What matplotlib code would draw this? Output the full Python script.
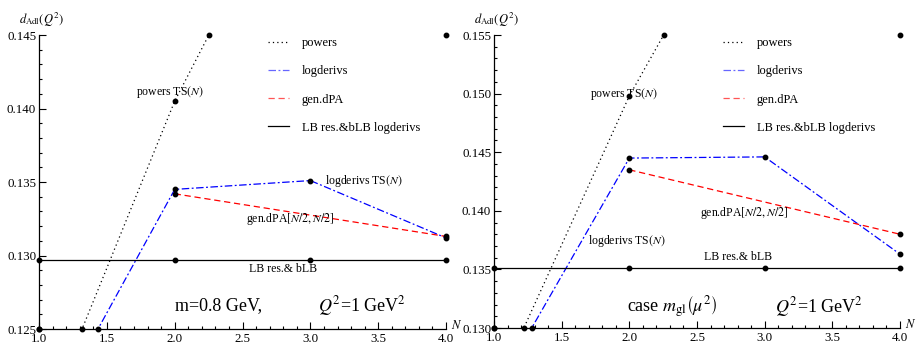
import numpy as np
import matplotlib
matplotlib.use("Agg")
import matplotlib.pyplot as plt
from matplotlib.lines import Line2D
from matplotlib.ticker import MultipleLocator, FormatStrFormatter

plt.rcParams["font.family"] = ["Liberation Serif", "DejaVu Serif"]
plt.rcParams["mathtext.fontset"] = "stix"

# ── data ────────────────────────────────────────────────
N = [1, 2, 3, 4]
N_even = [2, 4]

# left panel: m = 0.8 GeV
powers_L = [0.1178, 0.1405, 0.1584, 0.1700]
logder_L = [0.1177, 0.1345, 0.1351, 0.1312]
gendpa_L = [0.1342, 0.1313]
lb_L = [0.1297, 0.1297, 0.1297, 0.1297]
ylim_L = (0.125, 0.145)

# right panel: case m_gl(mu^2)
powers_R = [0.1244, 0.1498, 0.1703, 0.1850]
logder_R = [0.1244, 0.1445, 0.1446, 0.1363]
gendpa_R = [0.1435, 0.1380]
lb_R = [0.1351, 0.1351, 0.1351, 0.1351]
ylim_R = (0.130, 0.155)


def marks(x, y, lo, hi):
    """points Mathematica leaves on the plot: in-range points,
    clipped end points and crossings with the plot range"""
    px, py = [], []
    n = len(x)
    for i in range(n):
        if lo <= y[i] <= hi:
            px.append(x[i]); py.append(y[i])
        elif i in (0, n - 1):
            px.append(x[i]); py.append(min(max(y[i], lo), hi))
    for i in range(n - 1):
        for lim in (lo, hi):
            if (y[i] - lim) * (y[i + 1] - lim) < 0:
                t = (lim - y[i]) / (y[i + 1] - y[i])
                px.append(x[i] + t * (x[i + 1] - x[i])); py.append(lim)
    return px, py


def panel(ax, powers, logder, gendpa, lb, ylim):
    lw = 0.9
    ax.plot(N, powers, color="black", ls=(0, (1, 2.5)), lw=lw)
    ax.plot(N, logder, color="blue", ls=(0, (6, 2, 1.5, 2)), lw=lw)
    ax.plot(N_even, gendpa, color="red", ls=(0, (5, 3)), lw=lw)
    ax.plot(N, lb, color="black", lw=lw)
    for xs, ys in [(N, powers), (N, logder), (N_even, gendpa), (N, lb)]:
        mx, my = marks(xs, ys, *ylim)
        ax.plot(mx, my, "o", color="black", ms=3.2, clip_on=False, zorder=5)

    ax.set_xlim(1, 4)
    ax.set_ylim(*ylim)
    for s in ["top", "right"]:
        ax.spines[s].set_visible(False)
    ax.spines["left"].set_linewidth(0.9)
    ax.spines["bottom"].set_linewidth(0.9)
    ax.xaxis.set_major_locator(MultipleLocator(0.5))
    ax.xaxis.set_minor_locator(MultipleLocator(0.1))
    ax.yaxis.set_major_locator(MultipleLocator(0.005))
    ax.yaxis.set_minor_locator(MultipleLocator(0.001))
    ax.xaxis.set_major_formatter(FormatStrFormatter("%.1f"))
    ax.yaxis.set_major_formatter(FormatStrFormatter("%.3f"))
    ax.tick_params(which="both", direction="in", labelsize=9.3, width=0.8)
    ax.tick_params(which="major", length=5)
    ax.tick_params(axis="x", which="major", pad=3)
    ax.tick_params(axis="y", which="major", pad=2)
    ax.tick_params(which="minor", length=2.5)
    ax.text(-0.049, 1.02, r"$d_{\rm Adl}(Q^2)$", transform=ax.transAxes,
            ha="left", va="bottom", fontsize=9)
    ax.text(1.012, 0.013, r"$N$", transform=ax.transAxes, ha="left",
            va="center", fontsize=9)


fig = plt.figure(figsize=(9.18, 3.46), dpi=100)
axL = fig.add_axes([0.0425, 0.049, 0.4434, 0.8497])
axR = fig.add_axes([0.5381, 0.052, 0.4423, 0.8468])
panel(axL, powers_L, logder_L, gendpa_L, lb_L, ylim_L)
panel(axR, powers_R, logder_R, gendpa_R, lb_R, ylim_R)

fs = 8.5
# left annotations
axL.text(1.965, 0.1411, r"powers TS$(N)$", ha="center", va="center", fontsize=fs)
axL.text(3.39, 0.1351, r"logderivs TS$(N)$", ha="center", va="center", fontsize=fs)
axL.text(2.85, 0.1325, r"gen.dPA$[N/2,N/2]$", ha="center", va="center", fontsize=fs)
axL.text(2.80, 0.1291, "LB res.& bLB", ha="center", va="center", fontsize=fs)
axL.text(2.32, 0.1266, "m=0.8 GeV,", ha="center", va="center", fontsize=13)
axL.text(3.38, 0.1266, r"$Q^2$=1 GeV$^2$", ha="center", va="center", fontsize=13)

# right annotations
axR.text(1.96, 0.1500, r"powers TS$(N)$", ha="center", va="center", fontsize=fs)
axR.text(2.85, 0.1398, r"gen.dPA$[N/2,N/2]$", ha="center", va="center", fontsize=fs)
axR.text(1.98, 0.1374, r"logderivs TS$(N)$", ha="center", va="center", fontsize=fs)
axR.text(2.80, 0.1361, "LB res.& bLB", ha="center", va="center", fontsize=fs)
axR.text(2.32, 0.1318, r"case $m_{\rm gl}\left(\mu^2\right)$", ha="center", va="center", fontsize=13)
axR.text(3.40, 0.1318, r"$Q^2$=1 GeV$^2$", ha="center", va="center", fontsize=13)

handles = [
    Line2D([], [], color="black", ls=(0, (1, 2.5)), lw=0.9),
    Line2D([], [], color="#6666ff", ls=(0, (6, 2, 1.5, 2)), lw=0.9),
    Line2D([], [], color="#ff5555", ls=(0, (5, 3)), lw=0.9),
    Line2D([], [], color="black", lw=0.9),
]
labels = ["powers", "logderivs", "gen.dPA", "LB res.&bLB logderivs"]
for xf in (0.292, 0.7876):
    fig.legend(handles, labels, loc="upper left", bbox_to_anchor=(xf, 0.893),
               frameon=False, fontsize=9, handlelength=1.7, handletextpad=1.0,
               labelspacing=1.3, borderpad=0, borderaxespad=0)

plt.savefig("out.png", dpi=100)
